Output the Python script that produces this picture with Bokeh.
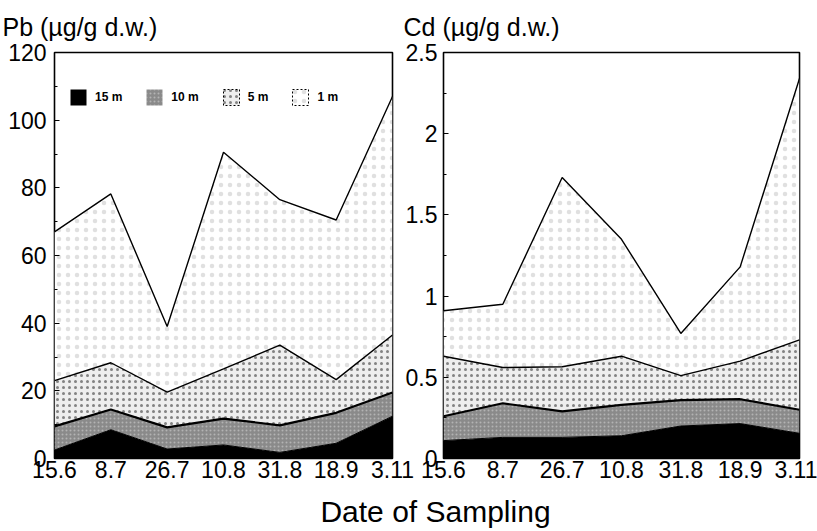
import numpy as np
from bokeh.plotting import figure
from bokeh.models import Range1d, FixedTicker, NumeralTickFormatter, Legend, LegendItem
from bokeh.layouts import column, row
from bokeh.embed import file_html
from bokeh.resources import INLINE
from bokeh.core.properties import value

# ---------------- data ----------------
dates = ["15.6", "8.7", "26.7", "10.8", "31.8", "18.9", "3.11"]
depths = ["15 m", "10 m", "5 m", "1 m"]

# Pb (ug/g d.w.) per depth layer (stacked)
pb_15m = [2.5, 8.5, 2.8, 4.0, 1.8, 4.5, 12.5]
pb_10m = [7.0, 6.0, 6.4, 7.8, 8.0, 9.0, 7.0]
pb_5m = [13.5, 13.8, 10.4, 14.7, 23.7, 9.8, 17.0]
pb_1m = [44.0, 49.9, 19.4, 64.0, 43.0, 47.2, 70.5]

# Cd (ug/g d.w.) per depth layer (stacked)
cd_15m = [0.11, 0.13, 0.13, 0.14, 0.20, 0.215, 0.155]
cd_10m = [0.15, 0.21, 0.16, 0.19, 0.16, 0.15, 0.145]
cd_5m = [0.37, 0.22, 0.275, 0.30, 0.15, 0.235, 0.43]
cd_1m = [0.28, 0.39, 1.165, 0.72, 0.26, 0.58, 1.61]

pb_ticks = [0, 20, 40, 60, 80, 100, 120]
pb_minor = [10, 30, 50, 70, 90, 110]
cd_ticks = [0, 0.5, 1, 1.5, 2, 2.5]
cd_minor = [0.25, 0.75, 1.25, 1.75, 2.25]

xlabel = "Date of Sampling"
FONT = "Liberation Sans"

styles = [
    dict(fill_color="black"),
    dict(fill_color="#8a8a8a", hatch_pattern="dot", hatch_color="white",
         hatch_scale=4, hatch_weight=1, hatch_alpha=0.35),
    dict(fill_color="#eeeeee", hatch_pattern="dot", hatch_color="black",
         hatch_scale=6, hatch_weight=1, hatch_alpha=0.45),
    dict(fill_color="white", hatch_pattern="dot", hatch_color="black",
         hatch_scale=9, hatch_weight=1, hatch_alpha=0.12),
]
swatch_lines = [
    dict(line_color=None),
    dict(line_color=None),
    dict(line_color="black", line_dash="2 2", line_width=1),
    dict(line_color="black", line_dash="2 2", line_width=1),
]


def panel(title, layers, ymax, ticks, minor, width, mbl, mbr, mbb, toff, lstand,
          fmt=None, legend=False):
    x = list(range(len(dates)))
    p = figure(width=width, height=490, output_backend="svg", toolbar_location=None,
               x_range=Range1d(0, len(dates) - 1), y_range=Range1d(0, ymax),
               min_border_left=mbl, min_border_right=mbr, min_border_top=52,
               min_border_bottom=mbb)
    p.border_fill_alpha = 0
    cum = np.cumsum(np.array(layers, dtype=float), axis=0)
    bottoms = [np.zeros(len(dates))] + list(cum[:-1])
    for i, st in enumerate(styles):
        p.varea(x=x, y1=bottoms[i], y2=cum[i], **st)
    widths = [1.0, 2.2, 1.4, 1.4]
    for i in range(len(layers)):
        p.line(x, cum[i], line_color="black", line_width=widths[i])

    p.xgrid.visible = False
    p.ygrid.visible = False
    p.outline_line_color = "black"
    p.outline_line_width = 1.6

    p.xaxis.ticker = FixedTicker(ticks=x)
    p.xaxis.major_label_overrides = {i: d for i, d in enumerate(dates)}
    p.xaxis.major_tick_in = 0
    p.xaxis.major_tick_out = 0
    p.xaxis.minor_tick_line_color = None
    p.xaxis.axis_line_color = None
    p.xaxis.major_label_standoff = 2

    p.yaxis.ticker = FixedTicker(ticks=ticks, minor_ticks=minor)
    p.yaxis.major_tick_in = 5
    p.yaxis.major_tick_out = 0
    p.yaxis.minor_tick_in = 3
    p.yaxis.minor_tick_out = 0
    p.yaxis.axis_line_color = None
    p.yaxis.major_label_standoff = lstand
    if fmt is not None:
        p.yaxis.formatter = fmt

    for ax in (p.xaxis[0], p.yaxis[0]):
        ax.major_label_text_font = FONT
        ax.major_label_text_font_size = "23px"
        ax.major_label_text_color = "black"

    p.title.text = title
    p.title.text_font = FONT
    p.title.text_font_size = "25px"
    p.title.text_font_style = "normal"
    p.title.text_color = "black"
    p.title.align = "left"
    p.title.vertical_align = "top"
    p.title.offset = toff
    p.title.standoff = 20

    if legend:
        items = []
        for i, (d, st, ln) in enumerate(zip(depths, styles, swatch_lines)):
            sw = p.quad(left=x, right=x, top=cum[i], bottom=bottoms[i],
                        visible=False, **st, **ln)
            items.append(LegendItem(label=d, renderers=[sw]))
        lg = Legend(items=items, orientation="horizontal", location=(14, 351),
                    padding=0, spacing=22, glyph_width=20, glyph_height=20,
                    label_standoff=7, label_text_font=FONT,
                    label_text_font_size="12px", label_text_font_style="bold",
                    label_text_color="black",
                    border_line_color=None, background_fill_alpha=0,
                    inactive_fill_alpha=0, label_height=20)
        p.add_layout(lg)
    return p


p1 = panel("Pb (µg/g d.w.)", [pb_15m, pb_10m, pb_5m, pb_1m], 120, pb_ticks, pb_minor,
           416, 54, 24, 32, -52, 8, legend=True)
p2 = panel("Cd (µg/g d.w.)", [cd_15m, cd_10m, cd_5m, cd_1m], 2.5, cd_ticks, cd_minor,
           415, 41, 18, 26, -40, 6, fmt=NumeralTickFormatter(format="0.[0]"))
p2.margin = (0, 0, 0, -14)

p3 = figure(width=817, height=41, output_backend="svg", toolbar_location=None,
            x_range=Range1d(0, 817), y_range=Range1d(0, 41),
            x_axis_type=None, y_axis_type=None,
            min_border_left=0, min_border_right=0, min_border_top=0, min_border_bottom=0)
p3.xgrid.visible = False
p3.ygrid.visible = False
p3.outline_line_color = None
p3.text(x=[435], y=[20], text=[xlabel], text_font=value(FONT), text_font_size="30px",
        text_align="center", text_baseline="middle", text_color="black")

layout = column(row(p1, p2), p3)
open("out.html", "w").write(file_html(layout, INLINE))
